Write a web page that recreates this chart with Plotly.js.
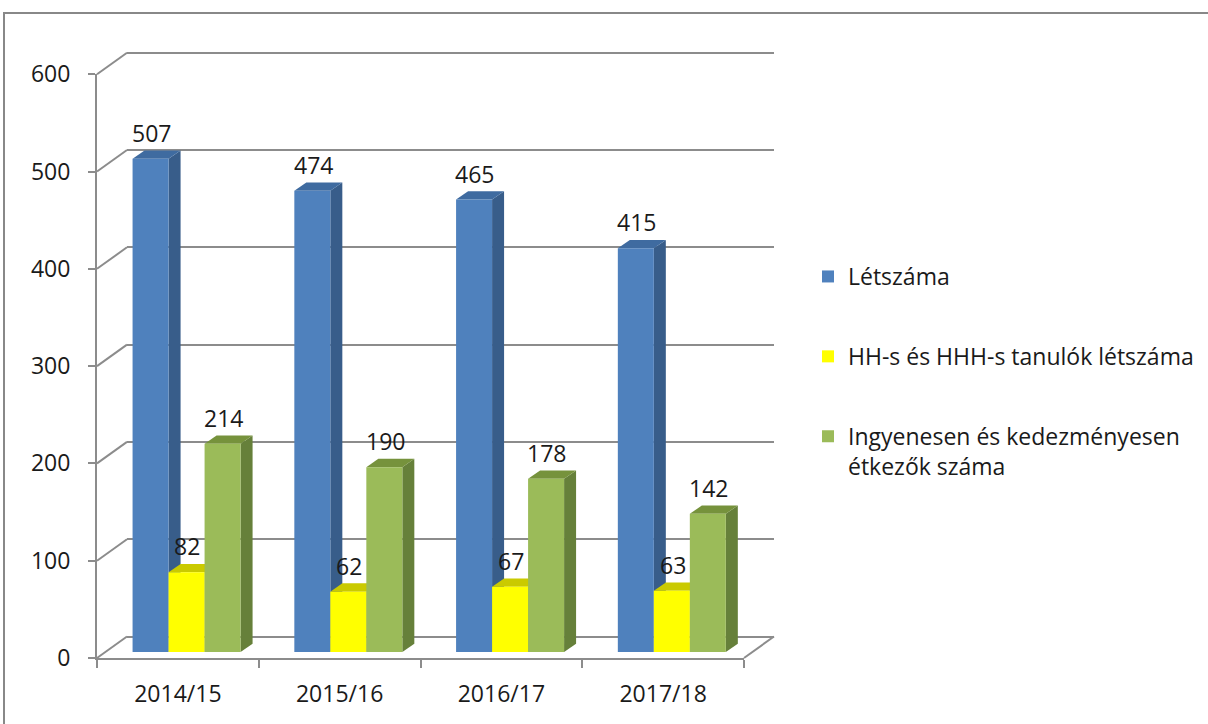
<!DOCTYPE html>
<html>
<head>
<meta charset="utf-8">
<script src="https://cdn.plot.ly/plotly-3.0.1.min.js"></script>
<style>html,body{margin:0;padding:0;background:#fff;}#chart{width:1208px;height:724px;}</style>
</head>
<body>
<div id="chart"></div>
<script>
// ---- data ----
const categories = ['2014/15', '2015/16', '2016/17', '2017/18'];
const letszama = [507, 474, 465, 415];
const hhhLetszama = [82, 62, 67, 63];
const etkezok = [214, 190, 178, 142];
const seriesNames = ['Létszáma', 'HH-s és HHH-s tanulók létszáma', 'Ingyenesen és kedezményesen<br>étkezők száma'];
const yMax = 600;
const yStep = 100;

// ---- styling / geometry ----
const W = 1208, H = 724;
const FONT = 'Open Sans, Liberation Sans, Arial, sans-serif';
const FS = 23;
const textColor = '#1a1a1a';
const frontFaceColors = ['#4F81BD', '#FFFF00', '#9BBB59'];
const sideColors = ['#385D8A', '#C0C000', '#66803A'];
const topColors = ['#3F6BA0', '#CACA00', '#76923C'];
const gridColor = '#8C8C8C';

const frontLeft = 97, frontRight = 744, frontBottom = 658, pxPerUnit = 0.973;
const frontTop = frontBottom - yMax * pxPerUnit;
const barShift = [8.7, 6];     // bar plane offset (px right, px up)
const wallShift = [30, 21.5];  // back wall offset
const depth = [12, 8.3];       // bar depth (px)
const barWidthPx = 36;
const wallPad = 5;             // range padding so edge gridlines are drawn

const n = categories.length;
const catPx = (frontRight - frontLeft) / n;
const barW = barWidthPx / catPx;
const bargap = 1 - 3 * barW;
const ddx = depth[0] / catPx;
const ddy = depth[1] / pxPerUnit;

const px2x = p => p / W;
const px2y = p => 1 - p / H;
const xDom = s => [px2x(frontLeft + s), px2x(frontRight + s)];
const yDom = (s, pad) => [px2y(frontBottom - s + pad * pxPerUnit), px2y(frontTop - s - pad * pxPerUnit)];
const idx = categories.map((_, i) => i);

const series = [letszama, hhhLetszama, etkezok];

const traces = [];
// dummy trace creating the back-wall subplot
traces.push({x: idx, y: idx.map(() => null), xaxis: 'x', yaxis: 'y', type: 'scatter', mode: 'markers', showlegend: false, hoverinfo: 'skip'});
series.forEach((vals, j) => {
  traces.push({
    type: 'bar', x: idx, y: vals, name: seriesNames[j], xaxis: 'x2', yaxis: 'y2',
    marker: {color: frontFaceColors[j], line: {width: 0}},
    legendgroup: 'g' + j, hoverinfo: 'y'
  });
});
// dummy trace creating the front-axes subplot
traces.push({x: categories, y: categories.map(() => null), xaxis: 'x3', yaxis: 'y3', type: 'scatter', mode: 'markers', showlegend: false, hoverinfo: 'skip'});

// 3D faces of the bars (side and top), in the bars' data coordinates
const shapes = [];
idx.forEach(i => {
  series.forEach((vals, j) => {
    const v = vals[i];
    const xl = i + (j - 1) * barW - barW / 2;
    const xr = xl + barW;
    shapes.push({type: 'path', xref: 'x2', yref: 'y2', layer: 'between', line: {width: 0}, fillcolor: sideColors[j],
      path: `M${xr},0 L${xr},${v} L${xr + ddx},${v + ddy} L${xr + ddx},${ddy} Z`});
    shapes.push({type: 'path', xref: 'x2', yref: 'y2', layer: 'between', line: {width: 0}, fillcolor: topColors[j],
      path: `M${xl},${v} L${xr},${v} L${xr + ddx},${v + ddy} L${xl + ddx},${v + ddy} Z`});
  });
});
// side-wall connectors between front axis ticks and back wall gridlines
for (let v = 0; v <= yMax; v += yStep) {
  const yf = frontBottom - v * pxPerUnit;
  shapes.push({type: 'line', xref: 'paper', yref: 'paper', layer: 'below',
    x0: px2x(frontLeft), y0: px2y(yf), x1: px2x(frontLeft + wallShift[0]), y1: px2y(yf - wallShift[1]),
    line: {color: gridColor, width: 2}});
}
// floor right edge
shapes.push({type: 'line', xref: 'paper', yref: 'paper', layer: 'below',
  x0: px2x(frontRight), y0: px2y(frontBottom), x1: px2x(frontRight + wallShift[0]), y1: px2y(frontBottom - wallShift[1]),
  line: {color: gridColor, width: 2}});
// outer chart border (top and left visible)
shapes.push({type: 'rect', xref: 'paper', yref: 'paper', layer: 'below',
  x0: px2x(4), y0: px2y(13), x1: 1.05, y1: -0.05, line: {color: '#888888', width: 2}, fillcolor: 'rgba(0,0,0,0)'});

// data labels
const annotations = [];
idx.forEach(i => {
  series.forEach((vals, j) => {
    annotations.push({xref: 'x2', yref: 'y2', x: i + (j - 1) * barW + 0.005, y: vals[i], yshift: 26, showarrow: false,
      text: String(vals[i]), font: {family: FONT, size: FS, color: textColor}});
  });
});

const layout = {
  width: W, height: H, margin: {l: 0, r: 0, t: 0, b: 0},
  paper_bgcolor: '#fff', plot_bgcolor: 'rgba(0,0,0,0)',
  font: {family: FONT, size: FS, color: textColor},
  barmode: 'group', bargap: bargap, bargroupgap: 0,
  showlegend: true,
  legend: {x: px2x(808), y: px2y(255), xanchor: 'left', yanchor: 'top', traceorder: 'grouped', tracegroupgap: 47,
    valign: 'top', font: {family: FONT, size: FS, color: textColor}, bgcolor: 'rgba(0,0,0,0)'},
  // back wall
  xaxis: {domain: xDom(wallShift[0]), range: [-0.5, n - 0.5], visible: false, anchor: 'y', fixedrange: true},
  yaxis: {domain: yDom(wallShift[1], wallPad), range: [-wallPad, yMax + wallPad], tick0: 0, dtick: yStep,
    showgrid: true, gridcolor: gridColor, gridwidth: 2,
    zeroline: false, showline: false, ticks: '', showticklabels: false, anchor: 'x', fixedrange: true},
  // bars
  xaxis2: {domain: xDom(barShift[0]), range: [-0.5, n - 0.5], visible: false, anchor: 'y2', fixedrange: true},
  yaxis2: {domain: yDom(barShift[1], 0), range: [0, yMax], visible: false, anchor: 'x2', fixedrange: true},
  // front axes
  xaxis3: {domain: xDom(0), type: 'category', categoryorder: 'array', categoryarray: categories, range: [-0.5, n - 0.5],
    showline: true, linecolor: gridColor, linewidth: 2, ticks: 'outside', tickson: 'boundaries', ticklen: 8,
    tickcolor: gridColor, tickwidth: 2, showgrid: false, zeroline: false, anchor: 'y3', fixedrange: true,
    tickfont: {family: FONT, size: FS, color: textColor}, ticklabelstandoff: 14},
  yaxis3: {domain: yDom(0, 0), range: [0, yMax], dtick: yStep, showline: true, linecolor: gridColor, linewidth: 2,
    ticks: 'outside', ticklen: 7, tickcolor: gridColor, tickwidth: 2, showgrid: false, zeroline: false, anchor: 'x3',
    fixedrange: true, tickfont: {family: FONT, size: FS, color: textColor}, ticklabelstandoff: 13},
  shapes: shapes,
  annotations: annotations
};

Plotly.newPlot('chart', traces, layout, {displayModeBar: false, staticPlot: true});
</script>
</body>
</html>
